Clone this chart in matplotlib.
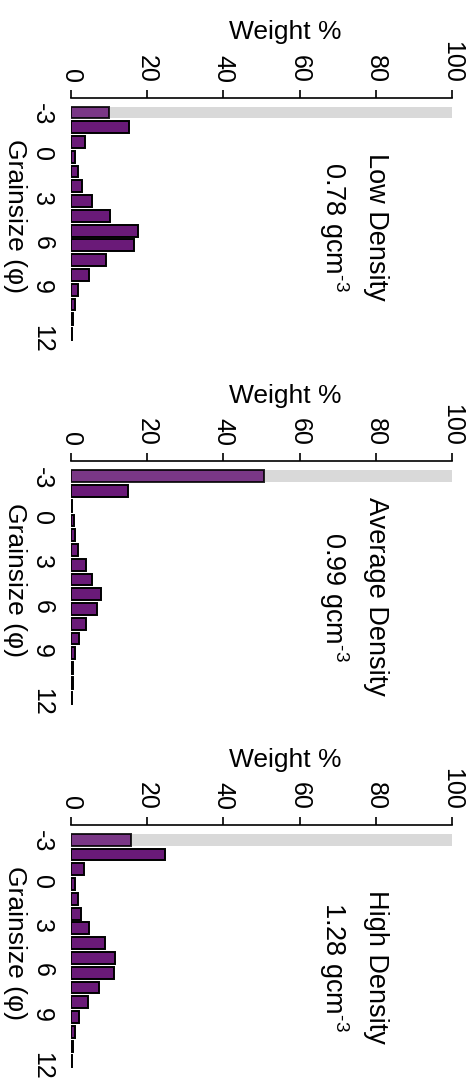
"""Grain size distributions for three density classes (rotated layout)."""

import matplotlib

matplotlib.use("Agg")
import matplotlib.pyplot as plt

plt.rcParams["font.family"] = ["Liberation Sans", "DejaVu Sans"]
plt.rcParams["mathtext.fontset"] = "custom"
plt.rcParams["mathtext.rm"] = "Liberation Sans"
plt.rcParams["mathtext.it"] = "Liberation Sans:italic"
plt.rcParams["axes.unicode_minus"] = False

# --- data ---------------------------------------------------------------
GRAINSIZE = [-3, -2, -1, 0, 1, 2, 3, 4, 5, 6, 7, 8, 9, 10, 11, 12]
LOW = [10.0, 15.1, 3.8, 1.0, 1.8, 2.8, 5.6, 10.2, 17.7, 16.5, 9.2, 4.6, 1.9, 1.0, 0.5, 0.2]
AVERAGE = [50.7, 14.9, 0.2, 0.8, 1.0, 1.9, 3.9, 5.6, 8.0, 6.7, 3.9, 2.2, 1.0, 0.6, 0.4, 0.2]
HIGH = [15.7, 24.8, 3.5, 1.1, 1.8, 2.5, 4.8, 9.0, 11.6, 11.3, 7.4, 4.4, 2.0, 1.1, 0.5, 0.2]
GRAVEL_CAP = 100  # grey bar behind the -3 phi class

PANEL_NAMES = ["Low Density", "Average Density", "High Density"]
PANEL_DENSITIES = ["0.78", "0.99", "1.28"]
WEIGHT_TICKS = [0, 20, 40, 60, 80, 100]
GRAIN_TICKS = [-3, 0, 3, 6, 9, 12]

# --- layout (pixels) ------------------------------------------------------
W, H = 476, 1090
AX_LEFT, AX_WIDTH = 71, 381
AX_TOP0, AX_STEP, AX_HEIGHT = 97.7, 363.65, 243.7
TEXT_Y = [0.469, 0.445, 0.417]

PURPLE = "#6a1a78"
GREY = "#d9d9d9"


def panel(fig, i, values):
    top = AX_TOP0 + AX_STEP * i
    ax = fig.add_axes([AX_LEFT / W, 1 - (top + AX_HEIGHT) / H, AX_WIDTH / W, AX_HEIGHT / H])

    ax.barh(GRAINSIZE[0], GRAVEL_CAP, height=0.8, color=GREY, linewidth=0, zorder=1)
    bars = ax.barh(GRAINSIZE, values, height=0.8, color=PURPLE,
                   edgecolor="black", linewidth=1.4, zorder=2)
    bars[0].set_alpha(0.85)

    ax.set_xlim(0, 100)
    ax.set_ylim(12.5, -4)
    for side in ("left", "right", "bottom"):
        ax.spines[side].set_visible(False)
    ax.spines["top"].set_linewidth(1.2)

    ax.xaxis.tick_top()
    ax.set_xticks(WEIGHT_TICKS)
    ax.set_yticks(GRAIN_TICKS)
    ax.tick_params(axis="x", direction="out", length=5.8, width=1.2, pad=5,
                   labelsize=18, labelrotation=-90)
    ax.tick_params(axis="y", length=0, pad=12, labelsize=18, labelrotation=-90)

    ax.xaxis.set_label_position("top")
    ax.set_xlabel("Weight %", fontsize=19, va="baseline")
    ax.xaxis.set_label_coords(0.562, 1.24)
    ax.set_ylabel("Grainsize (\u03c6)", fontsize=19, rotation=-90, ha="center", va="center")
    ax.yaxis.set_label_coords(-0.147, 0.515)

    label = f"{PANEL_NAMES[i]}\n{PANEL_DENSITIES[i]} gcm$^{{\\text{{-3}}}}$"
    ax.text(0.74, TEXT_Y[i], label, transform=ax.transAxes, rotation=-90,
            ha="center", va="center", multialignment="center",
            fontsize=19.5, linespacing=1.5)
    return ax


def main():
    fig = plt.figure(figsize=(W / 100, H / 100), dpi=100)
    for i, values in enumerate([LOW, AVERAGE, HIGH]):
        panel(fig, i, values)
    fig.savefig("out.png", dpi=100)
    plt.close(fig)


if __name__ == "__main__":
    main()
